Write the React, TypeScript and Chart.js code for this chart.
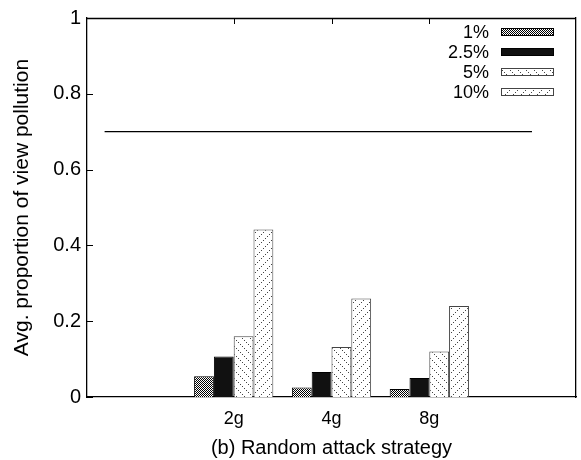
import React, { useEffect, useRef } from "react";
import { Chart, registerables } from "chart.js";
Chart.register(...registerables);

const categories = ["2g", "4g", "8g"];
const seriesLabels = ["1%", "2.5%", "5%", "10%"];
const s1 = [0.055, 0.025, 0.021];
const s25 = [0.107, 0.066, 0.05];
const s5 = [0.16, 0.132, 0.12];
const s10 = [0.442, 0.26, 0.24];
const xRange = [-0.5, 4.5];
const refLineX = [-0.32, 4.05];
const refLineY = [0.7, 0.7];
const yTicks = [0, 0.2, 0.4, 0.6, 0.8, 1];
const xTitle = "(b) Random attack strategy";
const yTitle = "Avg. proportion of view pollution";

const FONT = "'Liberation Sans', Arial, Helvetica, sans-serif";

function makePattern(kind: string): CanvasPattern | string {
  const c = document.createElement("canvas");
  const ctx = c.getContext("2d")!;
  if (kind === "cross") {
    c.width = 4; c.height = 4;
    ctx.fillStyle = "#fff"; ctx.fillRect(0, 0, 4, 4);
    ctx.fillStyle = "#000";
    for (let y = 0; y < 4; y++) for (let x = 0; x < 4; x++) {
      if ((x + y) % 2 === 0 || (x % 2 === 1 && y % 2 === 1)) ctx.fillRect(x, y, 1, 1);
    }
    ctx.fillStyle = "#fff"; ctx.fillRect(1, 0, 1, 1); ctx.fillRect(3, 2, 1, 1);
  } else if (kind === "back") {
    c.width = 8; c.height = 8;
    ctx.fillStyle = "#fff"; ctx.fillRect(0, 0, 8, 8);
    ctx.fillStyle = "#444";
    for (let i = 0; i < 8; i += 2) ctx.fillRect(i, i, 1, 1);
  } else {
    c.width = 8; c.height = 8;
    ctx.fillStyle = "#fff"; ctx.fillRect(0, 0, 8, 8);
    ctx.fillStyle = "#444";
    for (let i = 0; i < 8; i += 2) ctx.fillRect(7 - i, i, 1, 1);
  }
  return ctx.createPattern(c, "repeat")!;
}

const decorPlugin = {
  id: "decor",
  afterDatasetsDraw(chart: any) {
    const { ctx, chartArea, scales } = chart;
    ctx.save();
    ctx.strokeStyle = "#000";
    ctx.lineWidth = 1.3;
    ctx.beginPath();
    ctx.moveTo(chartArea.left, chartArea.top + 0.5);
    ctx.lineTo(chartArea.right, chartArea.top + 0.5);
    ctx.stroke();
    ctx.lineWidth = 1;
    yTicks.forEach((v) => {
      const y = Math.round(scales.y.getPixelForValue(v)) + 0.5;
      ctx.beginPath();
      ctx.moveTo(chartArea.left, y);
      ctx.lineTo(chartArea.left + 6, y);
      ctx.stroke();
    });
    categories.forEach((c, i) => {
      const x = Math.round(scales.x.getPixelForValue(i + 1)) + 0.5;
      ctx.beginPath();
      ctx.moveTo(x, chartArea.top);
      ctx.lineTo(x, chartArea.top + 6);
      ctx.stroke();
    });
    const boxW = 53, boxH = 8;
    const boxRight = chartArea.right - 22;
    const boxLeft = boxRight - boxW;
    ctx.font = `18px ${FONT}`;
    ctx.textAlign = "right";
    ctx.textBaseline = "middle";
    chart.data.datasets.forEach((ds: any, i: number) => {
      if (ds.type === "line") return;
      const cy = chartArea.top + 14 + i * 20;
      ctx.fillStyle = "#000";
      ctx.fillText(ds.label, boxLeft - 12, cy + 1);
      ctx.fillStyle = ds.backgroundColor;
      ctx.fillRect(boxLeft, cy - boxH / 2, boxW, boxH);
      ctx.strokeStyle = ds.borderColor;
      ctx.strokeRect(boxLeft + 0.5, cy - boxH / 2 + 0.5, boxW - 1, boxH - 1);
    });
    ctx.restore();
  },
};

export default function App() {
  const ref = useRef<HTMLCanvasElement>(null);
  useEffect(() => {
    const canvas = ref.current!;
    const fills = [makePattern("cross"), "#111", makePattern("back"), makePattern("fwd")];
    const borders = ["#000", "#000", "#444", "#444"];
    const series = [s1, s25, s5, s10];
    const chart = new Chart(canvas, {
      type: "bar",
      data: {
        datasets: [
          ...series.map((d, i) => ({
            type: "bar" as const,
            label: seriesLabels[i],
            data: d.map((y, j) => ({ x: j + 1, y })),
            backgroundColor: fills[i] as any,
            borderColor: borders[i],
            borderWidth: 1,
            categoryPercentage: 0.81,
            barPercentage: 1,
          })),
          {
            type: "line" as const,
            label: "ref",
            data: refLineX.map((x, i) => ({ x, y: refLineY[i] })),
            borderColor: "#000",
            borderWidth: 1.3,
            pointRadius: 0,
          },
        ],
      } as any,
      options: {
        responsive: false,
        animation: false,
        parsing: true,
        layout: { padding: { left: 0, right: 5, top: 13, bottom: 0 } },
        plugins: { legend: { display: false }, tooltip: { enabled: false } },
        scales: {
          x: {
            type: "linear",
            min: xRange[0],
            max: xRange[1],
            offset: false,
            position: "bottom",
            grid: { display: false, drawTicks: false, offset: false },
            border: { display: true, color: "#000", width: 1.3 },
            afterBuildTicks: (s: any) => { s.ticks = categories.map((_, i) => ({ value: i + 1 })); },
            ticks: {
              color: "#000",
              font: { family: FONT, size: 18 },
              padding: 11,
              autoSkip: false,
              maxRotation: 0,
              callback: (v: any) => categories[Math.round(Number(v)) - 1] ?? "",
            },
            title: { display: true, text: xTitle, color: "#000", font: { family: FONT, size: 20 }, padding: { top: 1, bottom: 0 } },
            afterFit: (s: any) => { s.height = 63; },
          },
          y: {
            type: "linear",
            min: 0,
            max: 1,
            position: "left",
            grid: { display: false, drawTicks: false },
            border: { display: true, color: "#000", width: 1.3 },
            ticks: {
              stepSize: 0.2,
              color: "#000",
              font: { family: FONT, size: 20 },
              padding: 6,
              callback: (v: any) => String(Math.round(Number(v) * 10) / 10),
            },
            title: { display: true, text: yTitle, color: "#000", font: { family: FONT, size: 21 }, padding: { top: 10, bottom: 0 } },
            afterFit: (s: any) => { s.width = 87; },
          },
          yRight: {
            type: "linear",
            min: 0,
            max: 1,
            position: "right",
            grid: { display: false, drawTicks: false },
            border: { display: true, color: "#000", width: 1.3 },
            ticks: { display: false },
            afterFit: (s: any) => { s.width = 0; },
          },
        },
      } as any,
      plugins: [decorPlugin],
    });
    return () => chart.destroy();
  }, []);
  return (
    <div style={{ position: "fixed", left: 0, top: 0, width: 581, height: 460, background: "#fff" }}>
      <canvas ref={ref} width={581} height={460} />
    </div>
  );
}
